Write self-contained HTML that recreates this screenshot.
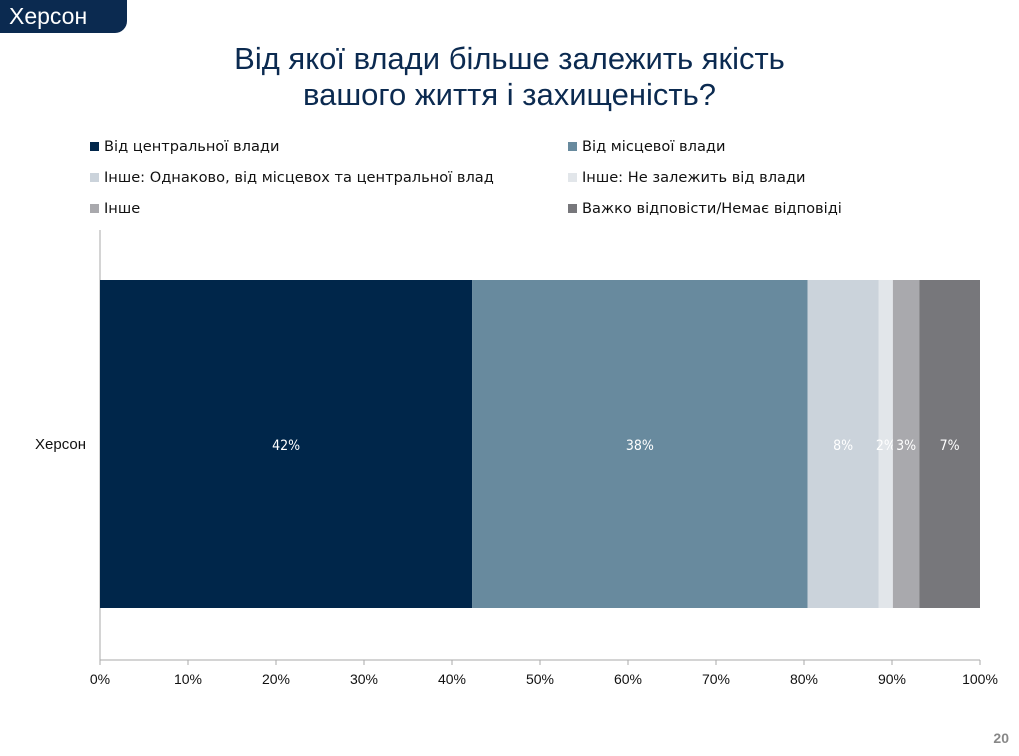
<!DOCTYPE html>
<html><head><meta charset="utf-8"><style>
body{margin:0;width:1019px;height:756px;background:#fff;font-family:"Liberation Sans","DejaVu Sans",sans-serif;position:relative;overflow:hidden}
.hdr{position:absolute;left:0;top:0;width:127px;height:33px;background:#0b2a50;border-bottom-right-radius:12px;color:#fff;font-size:23px;line-height:32px;padding-left:9px;box-sizing:border-box}
.title{position:absolute;left:0;width:1019px;top:41px;text-align:center;color:#0b2a50;font-size:31px;line-height:36px}
.leg{position:absolute;font-size:14.6px;color:#111;white-space:nowrap;font-family:"DejaVu Sans",sans-serif}
.leg i{display:inline-block;width:9px;height:9px;margin-right:5px;vertical-align:0px}
.pg{position:absolute;right:10px;top:730px;font-size:14px;color:#888;font-weight:bold}
</style></head><body>
<div class="hdr">Херсон</div>
<div class="title">Від якої влади більше залежить якість<br>вашого життя і захищеність?</div>
<div id="legend"></div>
<svg id="chart" width="1019" height="756" style="position:absolute;left:0;top:0"></svg>
<div class="pg">20</div>
<script>
const categories=["Херсон"];
const seriesNames=["Від центральної влади","Від місцевої влади","Інше: Однаково, від місцевох та центральної влад","Інше: Не залежить від влади","Інше","Важко відповісти/Немає відповіді"];
const seriesColors=["#00264a","#688a9e","#cbd3db","#e2e6ea","#a9a9ad","#77777b"];
const seriesValues=[42.3,38.1,8.1,1.6,3.0,6.9];
const ticks=[0,10,20,30,40,50,60,70,80,90,100];
const NS="http://www.w3.org/2000/svg";
const svg=document.getElementById('chart');
const x0=100,x1=980;
const xs=v=>x0+(x1-x0)*v/100;
function mk(t,a){const e=document.createElementNS(NS,t);for(const k in a)e.setAttribute(k,a[k]);svg.appendChild(e);return e;}
const lg=document.getElementById('legend');
seriesNames.forEach((n,i)=>{const d=document.createElement('div');d.className='leg';


d.style.left=(i%2?568:90)+'px';d.style.top=(138+Math.floor(i/2)*31)+'px';
d.innerHTML='<i style="background:'+seriesColors[i]+'"></i>'+n;lg.appendChild(d);});
const ax=mk('line',{x1:x0,y1:230,x2:x0,y2:660,stroke:'#aaa'});


const bx=mk('line',{x1:x0,y1:660,x2:x1,y2:660,stroke:'#aaa'});


ticks.forEach(t=>{const l=mk('line',{x1:xs(t),y1:660,x2:xs(t),y2:665,stroke:'#aaa'});


const tx=mk('text',{x:xs(t),y:684,'text-anchor':'middle','font-size':14,fill:'#111'});tx.textContent=t+'%';

});
const yl=mk('text',{x:86,y:449,'text-anchor':'end','font-size':15,fill:'#111'});yl.textContent=categories[0];


let acc=0;
seriesValues.forEach((v,i)=>{const r=mk('rect',{x:xs(acc),y:280,width:xs(acc+v)-xs(acc),height:328,fill:seriesColors[i]});


const t=mk('text',{x:(xs(acc)+xs(acc+v))/2,y:450,'text-anchor':'middle','font-size':14,fill:'#fff','font-family':'"DejaVu Sans Condensed","DejaVu Sans",sans-serif'});t.textContent=Math.round(v)+'%';


acc+=v;});
</script>
</body></html>
